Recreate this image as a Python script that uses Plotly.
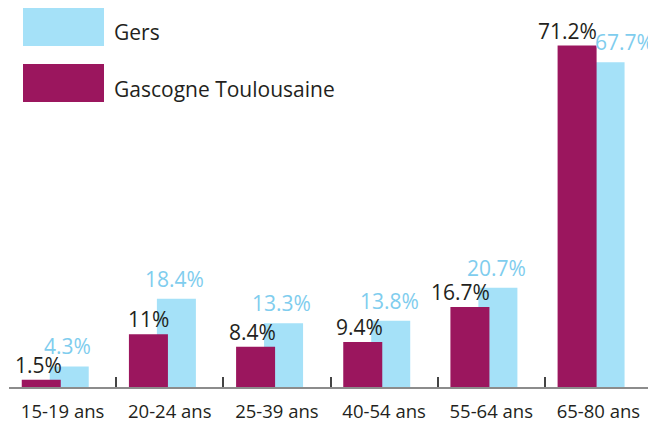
import plotly.graph_objects as go

categories = ["15-19 ans", "20-24 ans", "25-39 ans", "40-54 ans", "55-64 ans", "65-80 ans"]
gers = [4.3, 18.4, 13.3, 13.8, 20.7, 67.7]
gascogne = [1.5, 11, 8.4, 9.4, 16.7, 71.2]
series_names = ["Gers", "Gascogne Toulousaine"]

CYAN = "#a5e1f8"
CYAN_TXT = "#7fcdee"
MAGENTA = "#9b165e"
DARK = "#231f20"
FONT = "'Open Sans', sans-serif"

# the page body has an 8px default margin: size the figure to fill the rest of the window
BODY = 8
W, H = 656 - BODY, 423 - BODY
ML, MR, MT = 1, 4, 0
PH = 379
MB = H - MT - PH
PW = W - ML - MR
PX_PER_UNIT = 4.796


def px_x(px):  # px given in window coordinates
    return (px - BODY - ML) / PW


def px_y(py):
    return 1 - (py - BODY - MT) / PH


fig = go.Figure()
fig.add_trace(go.Bar(
    x=categories, y=gers, name=series_names[0],
    marker=dict(color=CYAN, line=dict(width=0)),
    width=0.364, offset=-0.12, hoverinfo="x+y",
))
fig.add_trace(go.Bar(
    x=categories, y=gascogne, name=series_names[1],
    marker=dict(color=MAGENTA, line=dict(width=0)),
    width=0.364, offset=-0.381, hoverinfo="x+y",
))


def fmt(v):
    return f"{v:g}%"


gers_anchor = ["center"] * 5 + ["left"]
annotations = []
for c, v, a in zip(categories, gers, gers_anchor):
    annotations.append(dict(
        x=c, y=v, xref="x", yref="y", text=fmt(v), showarrow=False,
        xanchor=a, yanchor="bottom", xshift=5 if a == "center" else -5, yshift=4,
        font=dict(family=FONT, size=21, color=CYAN_TXT),
    ))
for c, v in zip(categories, gascogne):
    annotations.append(dict(
        x=c, y=v, xref="x", yref="y", text=fmt(v), showarrow=False,
        xanchor="right", yanchor="bottom", xshift=1, yshift=-1,
        font=dict(family=FONT, size=21, color=DARK),
    ))

# manual legend
shapes = [
    dict(type="rect", xref="paper", yref="paper", x0=px_x(23), x1=px_x(104),
         y0=px_y(46), y1=px_y(7), fillcolor=CYAN, line=dict(width=0), layer="above"),
    dict(type="rect", xref="paper", yref="paper", x0=px_x(23), x1=px_x(104),
         y0=px_y(102), y1=px_y(64), fillcolor=MAGENTA, line=dict(width=0), layer="above"),
]
annotations.append(dict(x=px_x(112), y=px_y(32.5), xref="paper", yref="paper", text=series_names[0],
                        showarrow=False, xanchor="left", yanchor="middle",
                        font=dict(family=FONT, size=21, color=DARK)))
annotations.append(dict(x=px_x(112), y=px_y(89), xref="paper", yref="paper", text=series_names[1],
                        showarrow=False, xanchor="left", yanchor="middle",
                        font=dict(family=FONT, size=21, color=DARK)))

fig.update_layout(
    width=W, height=H,
    margin=dict(l=ML, r=MR, t=MT, b=MB, pad=0, autoexpand=False),
    paper_bgcolor="white", plot_bgcolor="white",
    barmode="overlay", showlegend=False,
    annotations=annotations, shapes=shapes,
    font=dict(family=FONT, color=DARK),
)
fig.update_xaxes(
    type="category", range=[-0.5, 5.5], automargin=False,
    showline=True, linecolor="#8c8c8c", linewidth=2,
    ticks="inside", tickson="boundaries", ticklen=10, tickwidth=1.5, tickcolor="#444",
    tickfont=dict(family=FONT, size=18.5, color=DARK),
    showgrid=False, zeroline=False, ticklabelstandoff=7,
)
fig.update_yaxes(range=[0, PH / PX_PER_UNIT], visible=False, showgrid=False, zeroline=False,
                 automargin=False)

fig.write_html("out.html")
